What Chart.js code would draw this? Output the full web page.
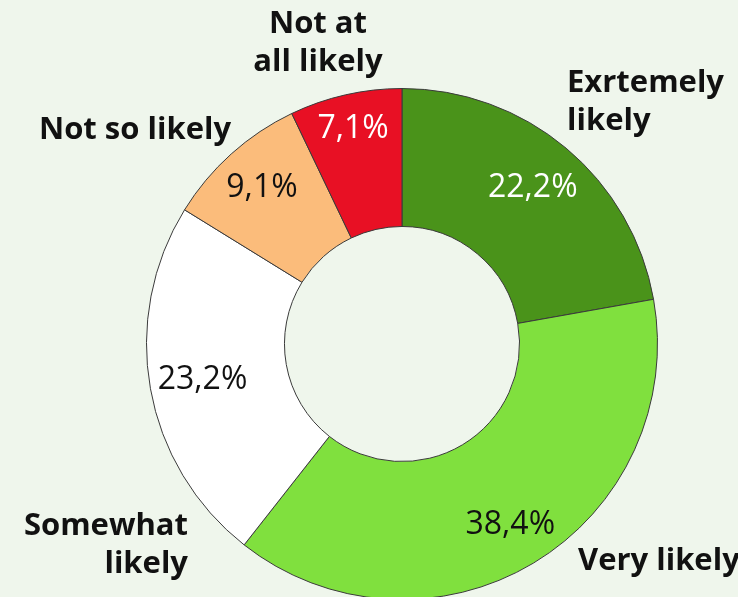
<!DOCTYPE html>
<html>
<head>
<meta charset="utf-8">
<title>Likelihood</title>
<script src="https://cdn.jsdelivr.net/npm/chart.js@4.4.1/dist/chart.umd.min.js"></script>
<style>
  html, body { margin: 0; padding: 0; overflow: hidden; background: #eff6ec; }
  #wrap { position: relative; width: 738px; height: 600px; }
</style>
</head>
<body>
<div id="wrap"><canvas id="likelyChart"></canvas></div>
<script>
// answers, clockwise from 12 o'clock
const categories = [['Exrtemely', 'likely'], ['Very likely'], ['Somewhat', 'likely'], ['Not so likely'], ['Not at', 'all likely']];
const shares = [22.2, 38.4, 23.2, 9.1, 7.1];

const sliceColors = ['#4a931a', '#80e03e', '#ffffff', '#fbbc7b', '#e81024'];
const pctColors = ['#ffffff', '#111111', '#111111', '#111111', '#ffffff'];

// how far out (fraction of outer radius) each percentage sits
const pctRadius = [0.797, 0.824, 0.793, 0.82, 0.865];
// category label anchors, px from the centre of the ring (first-line baseline)
const catPos = [
    { dx: 165, dy: -252, align: 'left' },
    { dx: 176, dy: 226, align: 'left' },
    { dx: -214, dy: 191, align: 'right' },
    { dx: -267, dy: -205, align: 'center' },
    { dx: -84, dy: -311, align: 'center' }
];
const lineGap = 38;

const fmtPct = v => v.toFixed(1).replace('.', ',') + '%';

const sliceLabels = {
    id: 'sliceLabels',
    afterDatasetsDraw(chart) {
        const ctx = chart.ctx;
        const arcs = chart.getDatasetMeta(0).data;
        ctx.save();
        arcs.forEach((arc, i) => {
            const { x, y, startAngle, endAngle, outerRadius } = arc.getProps(['x', 'y', 'startAngle', 'endAngle', 'outerRadius'], true);
            const mid = (startAngle + endAngle) / 2;
            const r = outerRadius * pctRadius[i];

            // percentage inside the ring
            ctx.font = '32px "Open Sans"';
            ctx.fillStyle = pctColors[i];
            ctx.textAlign = 'center';
            ctx.textBaseline = 'middle';
            ctx.fillText(fmtPct(shares[i]), x + Math.cos(mid) * r, y + Math.sin(mid) * r);

            // category name outside
            const p = catPos[i];
            ctx.font = 'bold 31px "Open Sans"';
            ctx.fillStyle = '#111111';
            ctx.textAlign = p.align;
            ctx.textBaseline = 'alphabetic';
            categories[i].forEach((line, k) => {
                ctx.fillText(line, x + p.dx, y + p.dy + k * lineGap);
            });
        });
        ctx.restore();
    }
};

new Chart(document.getElementById('likelyChart'), {
    type: 'doughnut',
    data: {
        labels: categories,
        datasets: [{
            data: shares,
            backgroundColor: sliceColors,
            borderColor: '#3a3a3a',
            borderWidth: 1
        }]
    },
    options: {
        responsive: true,
        maintainAspectRatio: false,
        animation: false,
        cutout: '46%',
        layout: { padding: { top: 88, left: 146, right: 80, bottom: 0 } },
        plugins: {
            legend: { display: false },
            tooltip: { enabled: false }
        }
    },
    plugins: [sliceLabels]
});
</script>
</body>
</html>
